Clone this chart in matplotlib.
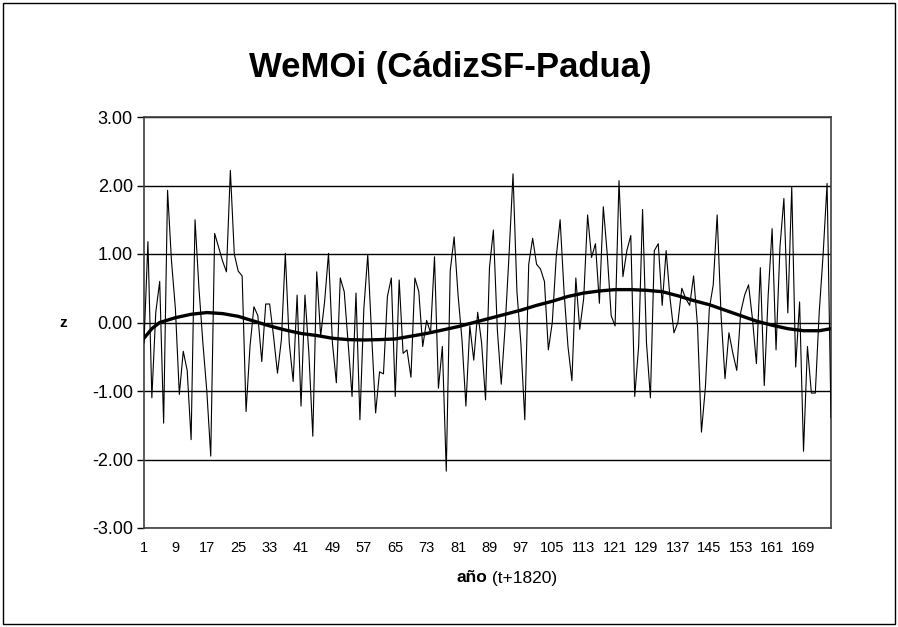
import matplotlib
matplotlib.use("Agg")
import matplotlib.pyplot as plt
from matplotlib.patches import Rectangle
import numpy as np

plt.rcParams['font.family'] = ['Liberation Sans', 'DejaVu Sans']
plt.rcParams['axes.unicode_minus'] = False

title = "WeMOi (CádizSF-Padua)"
ylabel = "z"
xlabel_bold = "año"
xlabel_rest = " (t+1820)"

# yearly z values, t = 1..176 (year = t + 1820)
z_values = [
    -0.30, 1.18, -1.10, 0.15, 0.60, -1.47, 1.93, 0.90, 0.20, -1.05,
    -0.42, -0.70, -1.71, 1.50, 0.50, -0.30, -1.00, -1.95, 1.30, 1.10,
    0.90, 0.74, 2.22, 1.00, 0.75, 0.68, -1.30, -0.35, 0.23, 0.10,
    -0.57, 0.27, 0.27, -0.20, -0.74, -0.25, 1.01, -0.30, -0.86, 0.40,
    -1.22, 0.40, -0.45, -1.66, 0.74, -0.20, 0.30, 1.01, -0.30, -0.88,
    0.65, 0.45, -0.30, -1.08, 0.43, -1.42, 0.20, 0.99, -0.20, -1.32,
    -0.72, -0.75, 0.38, 0.65, -1.08, 0.62, -0.45, -0.40, -0.80, 0.65,
    0.45, -0.35, 0.03, -0.15, 0.96, -0.96, -0.35, -2.17, 0.75, 1.25,
    0.40, -0.25, -1.22, -0.05, -0.55, 0.15, -0.30, -1.13, 0.80, 1.35,
    -0.10, -0.90, -0.05, 1.00, 2.17, 0.45, -0.30, -1.42, 0.85, 1.23,
    0.85, 0.78, 0.60, -0.40, 0.00, 0.95, 1.50, 0.45, -0.35, -0.85,
    0.65, -0.10, 0.35, 1.57, 0.95, 1.15, 0.28, 1.69, 1.00, 0.10,
    -0.05, 2.07, 0.67, 1.05, 1.27, -1.08, -0.35, 1.65, -0.30, -1.10,
    1.05, 1.15, 0.25, 1.05, 0.35, -0.15, 0.00, 0.50, 0.35, 0.25,
    0.68, -0.05, -1.60, -0.95, 0.20, 0.55, 1.57, 0.10, -0.82, -0.15,
    -0.45, -0.70, 0.15, 0.40, 0.55, 0.05, -0.60, 0.80, -0.92, 0.40,
    1.37, -0.40, 1.10, 1.81, 0.14, 1.98, -0.65, 0.30, -1.88, -0.35,
    -1.03, -1.03, 0.15, 1.00, 2.03, -1.39,
]
t_values = list(range(1, len(z_values) + 1))

# smooth trend line
trend_t = [1, 3, 5, 9, 13, 17, 21, 25, 29, 33, 37, 41, 45, 49, 53, 57, 61,
           65, 69, 73, 77, 81, 85, 89, 93, 97, 101, 105, 109, 113, 117, 121,
           125, 129, 133, 137, 141, 145, 149, 153, 157, 161, 165, 169, 173, 176]
trend_z = [-0.23, -0.09, 0.00, 0.07, 0.12, 0.145, 0.13, 0.09, 0.02, -0.05,
           -0.11, -0.16, -0.19, -0.23, -0.25, -0.255, -0.25, -0.24, -0.20,
           -0.16, -0.11, -0.06, 0.00, 0.06, 0.12, 0.18, 0.25, 0.31, 0.38,
           0.43, 0.46, 0.48, 0.48, 0.47, 0.45, 0.39, 0.32, 0.26, 0.18, 0.10,
           0.02, -0.04, -0.09, -0.12, -0.12, -0.09]

xtick_vals = list(range(1, 170, 8))
ytick_vals = [-3, -2, -1, 0, 1, 2, 3]

W, H = 898, 627
fig = plt.figure(figsize=(W / 100, H / 100), dpi=100)
fig.patch.set_facecolor('white')

left, right, top, bottom = 144, 831, 117, 528
ax = fig.add_axes([left / W, 1 - bottom / H, (right - left) / W, (bottom - top) / H])

ax.plot(t_values, z_values, color='black', lw=0.8, zorder=3)
ax.plot(trend_t, trend_z, color='black', lw=2.4, zorder=4, solid_joinstyle='round')

ax.set_xlim(1, len(z_values))
ax.set_ylim(-3, 3)
ax.set_yticks(ytick_vals)
ax.set_yticklabels([f"{v:.2f}" for v in ytick_vals], fontsize=13)
ax.set_xticks(xtick_vals)
ax.set_xticklabels([str(v) for v in xtick_vals], fontsize=10.5)
ax.tick_params(axis='y', direction='out', length=5, width=1, pad=3, color='black')
ax.tick_params(axis='x', length=0, pad=9)
ax.grid(axis='y', color='black', lw=1)
ax.set_axisbelow(True)
for s in ax.spines.values():
    s.set_color('#404040')
    s.set_linewidth(1.2)

# y label
fig.text(63 / W, 1 - 323 / H, ylabel, fontsize=11, fontweight='bold',
         ha='center', va='center')

# x label: bold part + regular part
fig.text(487 / W, 1 - 578 / H, xlabel_bold, fontsize=12.5, fontweight='bold',
         ha='right', va='center')
fig.text(487 / W, 1 - 578 / H, xlabel_rest, fontsize=12.5,
         ha='left', va='center')

fig.text(450 / W, 1 - 68 / H, title, fontsize=25, fontweight='bold',
         ha='center', va='center')

fig.patches.append(Rectangle((3 / W, 3 / H), (W - 6) / W, (H - 6) / H,
                             transform=fig.transFigure, fill=False,
                             edgecolor='black', lw=1))

fig.savefig('out.png', dpi=100)
